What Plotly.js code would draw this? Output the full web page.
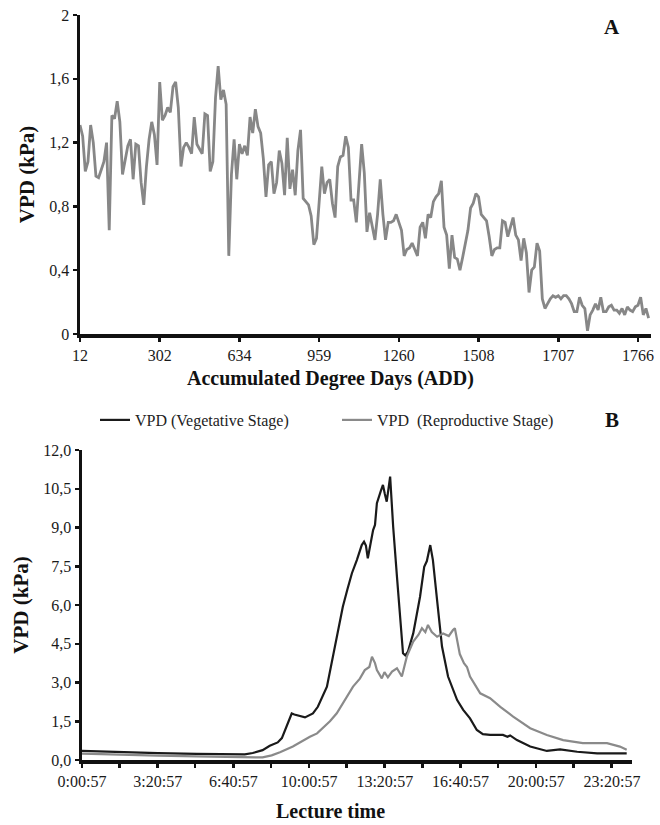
<!DOCTYPE html>
<html><head><meta charset="utf-8">
<script src="https://cdn.plot.ly/plotly-3.0.1.min.js"></script>
<style>html,body{margin:0;padding:0;background:#fff}#c{width:660px;height:825px}</style>
</head><body><div id="c"></div>
<script>
// ---- Panel A: VPD vs accumulated degree days (category axis) ----
const addTickLabels = ['12','302','634','959','1260','1508','1707','1766'];
const vpdA = [
1.31,1.24,1.02,1.08,1.31,1.2,0.99,0.98,1.03,1.08,
1.2,0.65,1.37,1.35,1.46,1.33,1.0,1.08,1.18,1.22,
0.97,1.19,1.18,0.95,0.81,1.05,1.22,1.33,1.25,1.06,
1.58,1.34,1.37,1.42,1.39,1.55,1.58,1.42,1.05,1.17,
1.2,1.17,1.13,1.36,1.19,1.16,1.13,1.38,1.37,1.02,
1.08,1.48,1.68,1.47,1.53,1.44,0.49,1.0,1.22,0.97,
1.19,1.13,1.18,1.12,1.36,1.26,1.41,1.3,1.26,1.1,
0.86,1.06,1.08,0.88,0.95,1.15,1.07,0.87,1.23,0.91,
1.03,0.87,1.15,1.28,0.85,0.83,0.81,0.74,0.56,0.6,0.8,
1.05,0.88,0.95,
0.97,0.82,0.73,1.05,1.11,1.12,1.24,1.17,0.84,0.84,
0.70,0.98,1.19,1.01,0.64,0.76,0.67,0.59,0.75,0.97,
0.75,0.59,0.70,0.70,0.71,0.75,0.70,0.65,0.49,0.53,
0.54,0.57,0.53,0.49,0.67,0.70,0.60,0.75,0.73,0.83,0.86,
0.88,0.96,0.67,0.62,0.41,0.62,0.48,0.47,0.40,0.48,
0.57,0.65,0.79,0.82,0.88,0.86,0.75,0.73,0.71,0.61,0.49,
0.53,0.54,0.54,0.71,0.70,0.61,0.67,0.73,0.62,0.59,
0.46,0.60,0.51,0.26,0.40,0.42,0.57,0.52,0.22,0.16,
0.19,0.22,0.24,0.23,0.24,0.22,0.24,0.24,0.22,0.19,0.14,0.14,
0.23,0.18,0.16,0.02,0.12,0.15,0.19,0.15,0.23,0.14,
0.14,0.17,0.18,0.15,0.15,0.13,0.16,0.12,0.17,0.15,
0.14,0.17,0.18,0.23,0.12,0.16,0.10
];
const catsPerTick = 30;

// ---- Panel B: daily VPD course ----
const timeVeg = ['00:00:57','01:41:00','03:21:00','05:04:00','06:40:00','07:11:00','07:32:00','07:58:00','08:17:00','08:38:00','08:49:00','09:02:00','09:15:00','09:22:00','09:31:00','09:50:00','10:11:00','10:24:00','10:48:00','11:03:00','11:08:00','11:14:00','11:30:00','11:42:00','11:54:00','12:07:00','12:20:00','12:26:00','12:31:00','12:36:00','12:50:00','12:55:00','13:00:00','13:10:00','13:16:00','13:21:00','13:26:00','13:35:00','13:43:00','13:53:00','14:01:00','14:09:00','14:15:00','14:22:00','14:36:00','14:54:00','15:05:00','15:12:00','15:21:00','15:28:00','15:39:00','15:52:00','16:08:00','16:32:00','16:48:00','17:06:00','17:24:00','17:40:00','17:59:00','18:33:00','18:45:00','18:52:00','19:10:00','19:45:00','20:29:00','21:04:00','21:49:00','22:42:00','23:59:57'];
const vpdVeg = [0.35,0.30,0.27,0.24,0.22,0.22,0.27,0.38,0.55,0.68,0.85,1.29,1.80,1.76,1.72,1.65,1.80,2.06,2.84,3.90,4.26,4.77,5.93,6.60,7.23,7.74,8.32,8.45,8.30,7.81,8.90,9.10,9.94,10.40,10.65,10.30,10.00,10.97,9.03,7.10,5.42,4.13,4.05,4.19,4.90,6.32,7.48,7.70,8.32,7.74,6.19,4.39,3.23,2.32,1.94,1.61,1.16,1.00,0.97,0.97,0.90,0.95,0.77,0.52,0.35,0.41,0.32,0.26,0.26];
const timeRep = ['00:00:57','01:41:00','03:21:00','05:04:00','06:40:00','07:58:00','08:22:00','08:44:00','09:18:00','09:29:00','10:03:00','10:22:00','10:56:00','11:14:00','11:35:00','11:57:00','12:15:00','12:28:00','12:40:00','12:47:00','12:55:00','13:00:00','13:13:00','13:20:00','13:29:00','13:40:00','13:53:00','14:00:00','14:06:00','14:19:00','14:36:00','14:50:00','14:59:00','15:08:00','15:15:00','15:25:00','15:39:00','15:55:00','16:10:00','16:21:00','16:26:00','16:39:00','16:50:00','16:58:00','17:06:00','17:33:00','17:59:00','18:26:00','19:00:00','19:45:00','20:29:00','21:12:00','22:04:00','23:08:00','23:42:00','23:59:57'];
const vpdRep = [0.25,0.20,0.17,0.14,0.12,0.10,0.18,0.30,0.52,0.62,0.90,1.03,1.50,1.81,2.30,2.84,3.15,3.48,3.60,4.00,3.75,3.48,3.16,3.40,3.20,3.42,3.55,3.35,3.23,4.00,4.58,4.85,5.10,4.95,5.23,4.95,4.77,4.90,4.80,5.03,5.10,4.10,3.75,3.60,3.23,2.58,2.39,2.06,1.68,1.23,0.97,0.77,0.65,0.65,0.52,0.40];
const seriesNames = ['VPD (Vegetative Stage)', 'VPD  (Reproductive Stage)'];
const day = '2000-01-01 ';

const serif = 'Liberation Serif, DejaVu Serif, serif';
const W = 660, H = 825;
const px = v => v / W, py = v => 1 - v / H;

const traces = [
  {x: vpdA.map((_, i) => i), y: vpdA, type: 'scatter', mode: 'lines',
   line: {color: '#878787', width: 2.8}, xaxis: 'x', yaxis: 'y', showlegend: false},
  {x: timeVeg.map(t => day + t), y: vpdVeg, type: 'scatter', mode: 'lines', name: seriesNames[0],
   line: {color: '#1a1a1a', width: 2.2}, xaxis: 'x2', yaxis: 'y2', legend: 'legend'},
  {x: timeRep.map(t => day + t), y: vpdRep, type: 'scatter', mode: 'lines', name: seriesNames[1],
   line: {color: '#8a8a8a', width: 2.2}, xaxis: 'x2', yaxis: 'y2', legend: 'legend2'}
];

const axisCommon = {showline: true, linecolor: '#111', linewidth: 3.5, showgrid: false, zeroline: false,
  ticks: 'outside', ticklen: 4, tickwidth: 2.5, tickcolor: '#111',
  tickfont: {family: serif, size: 16, color: '#1a1a1a'}};
const titleFont = {family: serif, size: 21, color: '#111', weight: 'bold'};
const legendFont = {family: serif, size: 16, color: '#222'};

const layout = {
  width: W, height: H, margin: {l: 0, r: 0, t: 0, b: 0},
  paper_bgcolor: '#fff', plot_bgcolor: '#fff', separators: ',.',
  showlegend: true,
  legend: {orientation: 'h', x: px(95), y: py(403), xanchor: 'left', yanchor: 'top',
    font: legendFont, itemwidth: 30, bgcolor: 'rgba(0,0,0,0)'},
  legend2: {orientation: 'h', x: px(337), y: py(403), xanchor: 'left', yanchor: 'top',
    font: legendFont, itemwidth: 30, bgcolor: 'rgba(0,0,0,0)'},
  xaxis: Object.assign({}, axisCommon, {domain: [px(80), px(651)], anchor: 'y',
    range: [0, vpdA.length - 1 + 0.9], tickmode: 'array',
    tickvals: addTickLabels.map((_, i) => i * catsPerTick), ticktext: addTickLabels}),
  yaxis: Object.assign({}, axisCommon, {domain: [py(334), py(15)], anchor: 'x',
    range: [0, 2], dtick: 0.4, tick0: 0,
    title: {text: 'VPD (kPa)', font: titleFont, standoff: 10}}),
  xaxis2: Object.assign({}, axisCommon, {domain: [px(82), px(632)], anchor: 'y2', type: 'date',
    range: [day + '00:00:57', '2000-01-02 00:13:57'],
    tick0: day + '00:00:57', dtick: 200 * 60000, tickformat: '%-H:%M:%S',
    minor: {ticks: 'outside', dtick: 100 * 60000, ticklen: 4, tickwidth: 2.5, tickcolor: '#111'}}),
  yaxis2: Object.assign({}, axisCommon, {domain: [py(760), py(450)], anchor: 'x2',
    range: [0, 12], dtick: 1.5, tick0: 0, tickformat: '.1f',
    title: {text: 'VPD (kPa)', font: titleFont, standoff: 10}}),
  annotations: [
    {text: 'Accumulated Degree Days (ADD)', xref: 'paper', yref: 'paper', x: px(330), y: py(378),
     xanchor: 'center', yanchor: 'middle', showarrow: false, font: Object.assign({}, titleFont, {size: 20})},
    {text: 'Lecture time', xref: 'paper', yref: 'paper', x: px(330), y: py(811),
     xanchor: 'center', yanchor: 'middle', showarrow: false, font: Object.assign({}, titleFont, {size: 20})},
    {text: '<b>A</b>', xref: 'paper', yref: 'paper', x: px(612), y: py(27), xanchor: 'center', yanchor: 'middle',
     showarrow: false, font: {family: serif, size: 21, color: '#111'}},
    {text: '<b>B</b>', xref: 'paper', yref: 'paper', x: px(612), y: py(420), xanchor: 'center', yanchor: 'middle',
     showarrow: false, font: {family: serif, size: 21, color: '#111'}}
  ]
};

Plotly.newPlot('c', traces, layout, {displayModeBar: false, staticPlot: true});
</script></body></html>
